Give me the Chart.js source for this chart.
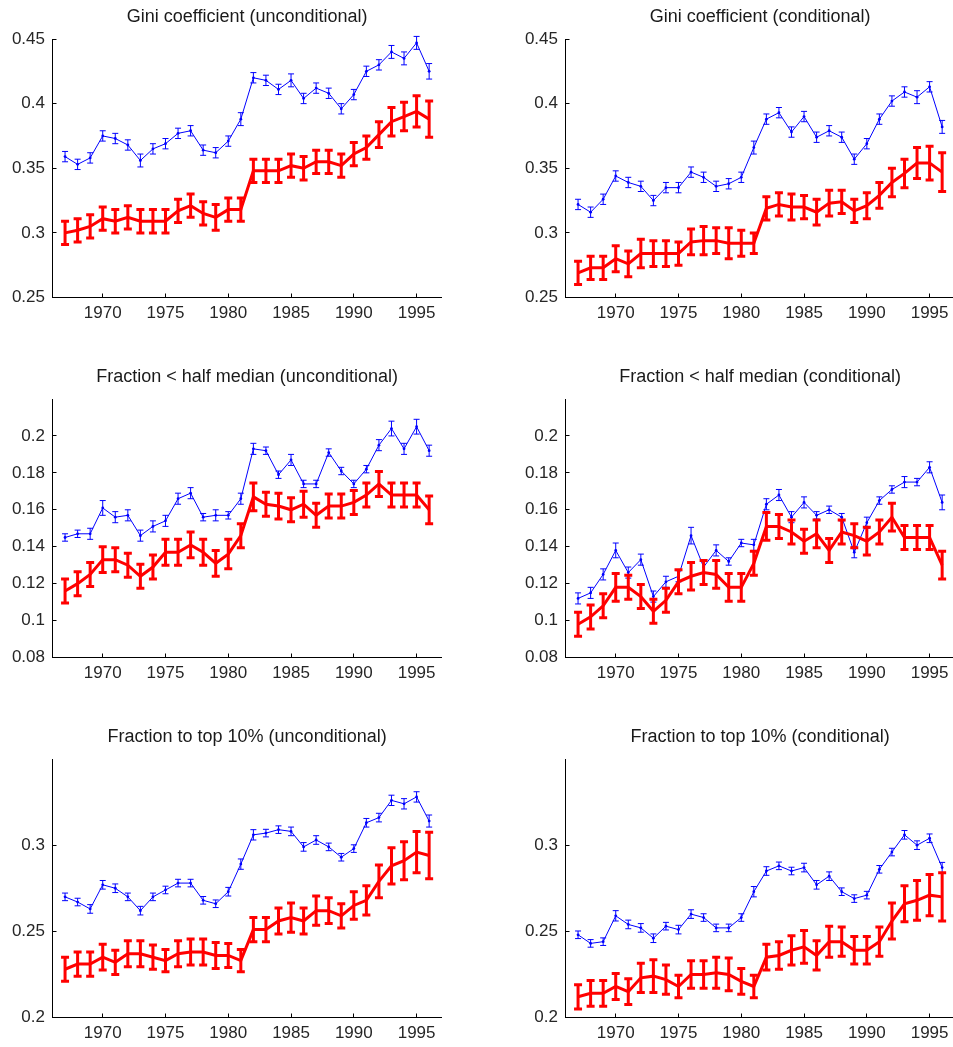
<!DOCTYPE html>
<html>
<head>
<meta charset="utf-8">
<script src="https://cdn.jsdelivr.net/npm/chart.js@4.4.1/dist/chart.umd.min.js"></script>
<style>
  html, body { margin: 0; padding: 0; background: #fff; width: 953px; height: 1047px; overflow: hidden; position: relative; }
  canvas { position: absolute; }
</style>
</head>
<body>
<canvas id="giniUnc"  width="453" height="360" style="left:0;top:0"></canvas>
<canvas id="giniCond" width="453" height="360" style="left:513px;top:0"></canvas>
<canvas id="hmUnc"    width="453" height="360" style="left:0;top:360px"></canvas>
<canvas id="hmCond"   width="453" height="360" style="left:513px;top:360px"></canvas>
<canvas id="topUnc"   width="453" height="360" style="left:0;top:720px"></canvas>
<canvas id="topCond"  width="453" height="360" style="left:513px;top:720px"></canvas>
<script>
// Survey years
const years = [1967, 1968, 1969, 1970, 1971, 1972, 1973, 1974, 1975, 1976,
               1977, 1978, 1979, 1980, 1981, 1982, 1983, 1984, 1985, 1986,
               1987, 1988, 1989, 1990, 1991, 1992, 1993, 1994, 1995, 1996];

// Axis tick labels
const yearTicks = [1970, 1975, 1980, 1985, 1990, 1995];
const giniTicks = [0.25, 0.3, 0.35, 0.4, 0.45];
const halfMedianTicks = [0.08, 0.1, 0.12, 0.14, 0.16, 0.18, 0.2];
const top10Ticks = [0.2, 0.25, 0.3];

// Gini coefficient, unconditional
const giniUncBlue    = [0.359, 0.353, 0.358, 0.375, 0.373, 0.368, 0.356, 0.365, 0.369, 0.377, 0.379, 0.364, 0.362, 0.371, 0.388, 0.420, 0.418, 0.411, 0.418, 0.404, 0.412, 0.408, 0.396, 0.407, 0.425, 0.430, 0.440, 0.435, 0.447, 0.425];
const giniUncBlueErr = [0.004, 0.004, 0.004, 0.004, 0.004, 0.004, 0.005, 0.004, 0.004, 0.004, 0.004, 0.004, 0.004, 0.004, 0.005, 0.004, 0.004, 0.004, 0.005, 0.004, 0.004, 0.004, 0.004, 0.004, 0.004, 0.004, 0.005, 0.005, 0.005, 0.006];
const giniUncRed     = [0.300, 0.302, 0.305, 0.311, 0.309, 0.312, 0.309, 0.309, 0.309, 0.317, 0.321, 0.315, 0.312, 0.318, 0.318, 0.348, 0.348, 0.348, 0.352, 0.350, 0.355, 0.355, 0.352, 0.361, 0.366, 0.376, 0.386, 0.390, 0.394, 0.388];
const giniUncRedErr  = [0.009, 0.009, 0.009, 0.009, 0.009, 0.009, 0.009, 0.009, 0.009, 0.009, 0.009, 0.009, 0.010, 0.009, 0.009, 0.009, 0.009, 0.009, 0.009, 0.009, 0.009, 0.009, 0.009, 0.009, 0.009, 0.010, 0.011, 0.011, 0.012, 0.014];

// Gini coefficient, conditional
const giniCondBlue    = [0.322, 0.316, 0.326, 0.344, 0.339, 0.336, 0.325, 0.335, 0.335, 0.347, 0.343, 0.336, 0.338, 0.343, 0.366, 0.388, 0.393, 0.378, 0.390, 0.374, 0.379, 0.374, 0.357, 0.369, 0.388, 0.402, 0.409, 0.405, 0.413, 0.382];
const giniCondBlueErr = [0.004, 0.004, 0.004, 0.004, 0.004, 0.004, 0.004, 0.004, 0.004, 0.004, 0.004, 0.004, 0.004, 0.004, 0.005, 0.004, 0.004, 0.004, 0.004, 0.004, 0.004, 0.004, 0.004, 0.004, 0.004, 0.004, 0.004, 0.005, 0.004, 0.005];
const giniCondRed     = [0.269, 0.273, 0.273, 0.280, 0.276, 0.284, 0.284, 0.284, 0.284, 0.293, 0.294, 0.294, 0.292, 0.292, 0.292, 0.319, 0.322, 0.320, 0.320, 0.316, 0.323, 0.324, 0.317, 0.321, 0.329, 0.339, 0.346, 0.354, 0.354, 0.347];
const giniCondRedErr  = [0.009, 0.009, 0.009, 0.010, 0.010, 0.011, 0.010, 0.010, 0.009, 0.010, 0.011, 0.010, 0.012, 0.010, 0.008, 0.009, 0.009, 0.010, 0.009, 0.010, 0.010, 0.009, 0.009, 0.010, 0.010, 0.011, 0.011, 0.012, 0.013, 0.015];

// Fraction below half the median, unconditional
const hmUncBlue    = [0.145, 0.147, 0.147, 0.161, 0.156, 0.157, 0.146, 0.151, 0.154, 0.166, 0.169, 0.156, 0.157, 0.157, 0.166, 0.193, 0.192, 0.179, 0.187, 0.174, 0.174, 0.191, 0.181, 0.174, 0.182, 0.195, 0.204, 0.193, 0.205, 0.192];
const hmUncBlueErr = [0.002, 0.002, 0.003, 0.004, 0.003, 0.003, 0.003, 0.003, 0.003, 0.003, 0.003, 0.002, 0.003, 0.002, 0.003, 0.003, 0.002, 0.002, 0.003, 0.002, 0.002, 0.002, 0.002, 0.002, 0.002, 0.003, 0.004, 0.003, 0.004, 0.003];
const hmUncRed     = [0.116, 0.120, 0.125, 0.133, 0.133, 0.130, 0.124, 0.129, 0.137, 0.137, 0.141, 0.137, 0.131, 0.136, 0.146, 0.167, 0.163, 0.162, 0.160, 0.163, 0.157, 0.162, 0.162, 0.164, 0.168, 0.174, 0.168, 0.168, 0.168, 0.160];
const hmUncRedErr  = [0.0065, 0.0065, 0.0065, 0.007, 0.0065, 0.0065, 0.0065, 0.0065, 0.007, 0.007, 0.007, 0.007, 0.007, 0.008, 0.0065, 0.0075, 0.0065, 0.007, 0.0065, 0.007, 0.0065, 0.0065, 0.0065, 0.0065, 0.0065, 0.0068, 0.0065, 0.0065, 0.0065, 0.0075];

// Fraction below half the median, conditional
const hmCondBlue    = [0.112, 0.115, 0.125, 0.138, 0.126, 0.133, 0.113, 0.121, 0.124, 0.146, 0.129, 0.138, 0.132, 0.142, 0.141, 0.163, 0.168, 0.156, 0.164, 0.157, 0.160, 0.156, 0.137, 0.153, 0.165, 0.171, 0.175, 0.175, 0.183, 0.164];
const hmCondBlueErr = [0.003, 0.003, 0.003, 0.004, 0.003, 0.003, 0.003, 0.003, 0.003, 0.0045, 0.003, 0.003, 0.002, 0.002, 0.003, 0.003, 0.003, 0.003, 0.003, 0.002, 0.002, 0.002, 0.003, 0.003, 0.002, 0.002, 0.003, 0.002, 0.003, 0.004];
const hmCondRed     = [0.098, 0.102, 0.108, 0.118, 0.118, 0.113, 0.105, 0.111, 0.121, 0.124, 0.126, 0.125, 0.118, 0.118, 0.131, 0.151, 0.151, 0.148, 0.143, 0.147, 0.138, 0.148, 0.146, 0.143, 0.148, 0.156, 0.145, 0.145, 0.145, 0.130];
const hmCondRedErr  = [0.0065, 0.0065, 0.0065, 0.0075, 0.0065, 0.0065, 0.0065, 0.0065, 0.0065, 0.0075, 0.0065, 0.0075, 0.0075, 0.0075, 0.0065, 0.0075, 0.0065, 0.0065, 0.0065, 0.0075, 0.0065, 0.0065, 0.0065, 0.0075, 0.0065, 0.0075, 0.0065, 0.0065, 0.0065, 0.0075];

// Fraction of income to the top 10%, unconditional
const topUncBlue    = [0.270, 0.267, 0.263, 0.277, 0.275, 0.270, 0.262, 0.270, 0.274, 0.278, 0.278, 0.268, 0.266, 0.273, 0.289, 0.306, 0.307, 0.309, 0.308, 0.299, 0.303, 0.299, 0.293, 0.298, 0.313, 0.316, 0.326, 0.324, 0.328, 0.314];
const topUncBlueErr = [0.0022, 0.0022, 0.0025, 0.0025, 0.0025, 0.0022, 0.0025, 0.0022, 0.0022, 0.0022, 0.0022, 0.0022, 0.0022, 0.0025, 0.003, 0.003, 0.0022, 0.0022, 0.0025, 0.0025, 0.0025, 0.0022, 0.0022, 0.0022, 0.0025, 0.0025, 0.003, 0.003, 0.003, 0.0035];
const topUncRed     = [0.228, 0.231, 0.231, 0.235, 0.232, 0.237, 0.237, 0.235, 0.233, 0.237, 0.238, 0.238, 0.236, 0.236, 0.233, 0.251, 0.251, 0.256, 0.258, 0.256, 0.262, 0.262, 0.259, 0.265, 0.268, 0.279, 0.288, 0.291, 0.296, 0.294];
const topUncRedErr  = [0.007, 0.007, 0.007, 0.0075, 0.007, 0.0075, 0.0075, 0.007, 0.0065, 0.0075, 0.0075, 0.0075, 0.0075, 0.007, 0.0065, 0.007, 0.007, 0.0075, 0.0085, 0.0075, 0.0085, 0.0075, 0.007, 0.008, 0.0085, 0.0095, 0.0105, 0.011, 0.012, 0.0135];

// Fraction of income to the top 10%, conditional
const topCondBlue    = [0.248, 0.243, 0.244, 0.259, 0.254, 0.252, 0.246, 0.253, 0.251, 0.260, 0.258, 0.252, 0.252, 0.258, 0.273, 0.285, 0.288, 0.285, 0.287, 0.277, 0.282, 0.273, 0.269, 0.271, 0.286, 0.296, 0.306, 0.300, 0.304, 0.287];
const topCondBlueErr = [0.0022, 0.0022, 0.0022, 0.003, 0.0025, 0.0025, 0.0025, 0.0022, 0.0025, 0.0025, 0.0022, 0.0022, 0.0022, 0.0022, 0.003, 0.0025, 0.0022, 0.0022, 0.0025, 0.0025, 0.0025, 0.0022, 0.0022, 0.0022, 0.0022, 0.0022, 0.0025, 0.0025, 0.0025, 0.003];
const topCondRed     = [0.212, 0.214, 0.214, 0.218, 0.215, 0.223, 0.224, 0.222, 0.218, 0.225, 0.225, 0.226, 0.225, 0.221, 0.218, 0.235, 0.236, 0.239, 0.241, 0.236, 0.244, 0.244, 0.239, 0.239, 0.244, 0.256, 0.266, 0.268, 0.271, 0.270];
const topCondRedErr  = [0.007, 0.0075, 0.0075, 0.0075, 0.0075, 0.0085, 0.0095, 0.0085, 0.0065, 0.008, 0.008, 0.009, 0.0095, 0.0075, 0.0065, 0.0075, 0.008, 0.0085, 0.0095, 0.0085, 0.009, 0.0085, 0.008, 0.008, 0.0085, 0.0105, 0.0105, 0.0115, 0.012, 0.014];

// Draws vertical error bars with caps right after each dataset's line,
// positioned through the chart's own scales.
const errorBarPlugin = {
  id: 'errorBars',
  afterDatasetDraw(chart, args) {
    const ds = chart.data.datasets[args.index];
    if (!ds.errors) return;
    const xs = chart.scales.x, ys = chart.scales.y, ctx = chart.ctx;
    const area = chart.chartArea;
    ctx.save();
    ctx.beginPath();
    ctx.rect(area.left - 10, area.top - 10, area.right - area.left + 20, area.bottom - area.top + 20);
    ctx.clip();
    ctx.strokeStyle = ds.borderColor;
    ctx.lineWidth = ds.errorLineWidth;
    ctx.lineCap = 'butt';
    ctx.beginPath();
    ds.data.forEach((pt, i) => {
      const e = ds.errors[i];
      const px = xs.getPixelForValue(pt.x);
      const lo = ys.getPixelForValue(pt.y - e);
      const hi = ys.getPixelForValue(pt.y + e);
      const c = ds.capHalfWidth;
      ctx.moveTo(px, lo); ctx.lineTo(px, hi);
      ctx.moveTo(px - c, lo); ctx.lineTo(px + c, lo);
      ctx.moveTo(px - c, hi); ctx.lineTo(px + c, hi);
    });
    ctx.stroke();
    ctx.restore();
  }
};

const toPoints = vals => vals.map((v, i) => ({ x: years[i], y: v }));
const fmt = v => String(parseFloat(Number(v).toFixed(3)));

Chart.defaults.font.family = "'Liberation Sans', Arial, sans-serif";

function panel(id, title, yMin, yMax, yTicks, blue, blueErr, red, redErr) {
  const axisCommon = {
    grid: { drawOnChartArea: false, drawTicks: true, tickLength: -4, color: '#000', lineWidth: 1 },
    border: { display: true, color: '#000', width: 1 }
  };
  return new Chart(document.getElementById(id), {
    type: 'line',
    data: {
      datasets: [
        {
          data: toPoints(red), errors: redErr,
          borderColor: '#ff0000', borderWidth: 3, pointRadius: 0,
          errorLineWidth: 3, capHalfWidth: 4, tension: 0, order: 0
        },
        {
          data: toPoints(blue), errors: blueErr,
          borderColor: '#0000ff', borderWidth: 1,
          pointRadius: 1.4, pointBackgroundColor: '#0000ff', pointBorderWidth: 0,
          errorLineWidth: 1, capHalfWidth: 3, tension: 0, order: 1
        }
      ]
    },
    options: {
      responsive: false,
      animation: false,
      devicePixelRatio: 1,
      events: [],
      layout: { padding: { left: 0, right: 11.3, top: 0, bottom: 0 } },
      plugins: {
        legend: { display: false },
        tooltip: { enabled: false },
        title: {
          display: true, text: title, fullSize: false,
          color: '#1a1a1a',
          font: { size: 18, weight: 'normal' },
          padding: { top: 6, bottom: 11.4 }
        }
      },
      scales: {
        x: Object.assign({
          type: 'linear', min: 1966, max: 1997,
          afterBuildTicks: s => { s.ticks = yearTicks.map(v => ({ value: v })); },
          afterFit: s => { s.height = 62.5; },
          ticks: { color: '#262626', font: { size: 17 }, padding: 10, maxRotation: 0, autoSkip: false, callback: v => String(v) }
        }, axisCommon),
        y: Object.assign({
          type: 'linear', min: yMin, max: yMax,
          afterBuildTicks: s => { s.ticks = yTicks.map(v => ({ value: v })); },
          afterFit: s => { s.width = 52.5; },
          ticks: { color: '#262626', font: { size: 17 }, padding: 11.5, autoSkip: false, callback: v => fmt(v) }
        }, axisCommon)
      }
    },
    plugins: [errorBarPlugin]
  });
}

panel('giniUnc',  'Gini coefficient (unconditional)',       0.25, 0.45, giniTicks,       giniUncBlue,  giniUncBlueErr,  giniUncRed,  giniUncRedErr);
panel('giniCond', 'Gini coefficient (conditional)',         0.25, 0.45, giniTicks,       giniCondBlue, giniCondBlueErr, giniCondRed, giniCondRedErr);
panel('hmUnc',    'Fraction < half median (unconditional)', 0.08, 0.22, halfMedianTicks, hmUncBlue,    hmUncBlueErr,    hmUncRed,    hmUncRedErr);
panel('hmCond',   'Fraction < half median (conditional)',   0.08, 0.22, halfMedianTicks, hmCondBlue,   hmCondBlueErr,   hmCondRed,   hmCondRedErr);
panel('topUnc',   'Fraction to top 10% (unconditional)',    0.2,  0.35, top10Ticks,      topUncBlue,   topUncBlueErr,   topUncRed,   topUncRedErr);
panel('topCond',  'Fraction to top 10% (conditional)',      0.2,  0.35, top10Ticks,      topCondBlue,  topCondBlueErr,  topCondRed,  topCondRedErr);
</script>
</body>
</html>
